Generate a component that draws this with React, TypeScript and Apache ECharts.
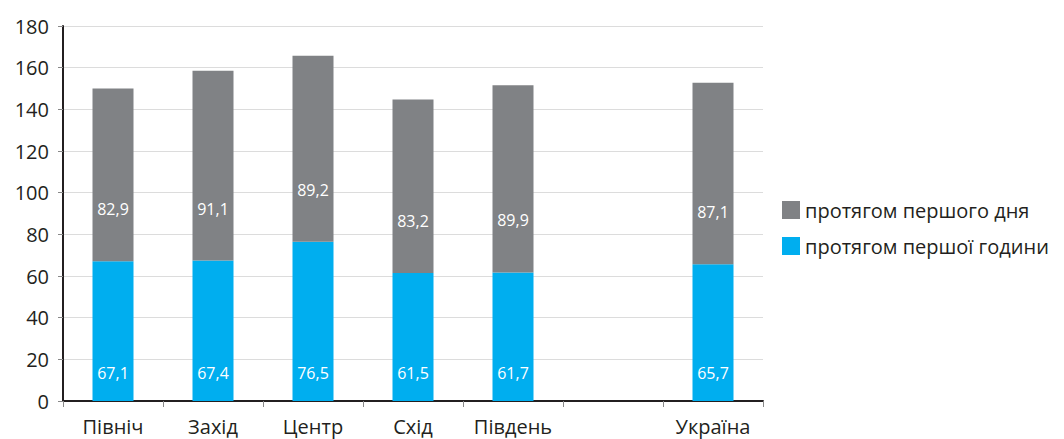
import React, { useEffect, useRef } from "react";
import * as echarts from "echarts";

const categories = ["Північ", "Захід", "Центр", "Схід", "Південь", "", "Україна"];
const firstHour = [67.1, 67.4, 76.5, 61.5, 61.7, null, 65.7];
const firstDay = [82.9, 91.1, 89.2, 83.2, 89.9, null, 87.1];
const seriesNames = ["протягом першого дня", "протягом першої години"];
const yTicks = { min: 0, max: 180, interval: 20 };

const FONT = "'Open Sans', 'Noto Sans', sans-serif";
const fmt = (p: any) => (p.value == null ? "" : Number(p.value).toFixed(1).replace(".", ","));

export default function App() {
  const ref = useRef<HTMLDivElement>(null);
  useEffect(() => {
    if (!ref.current) return;
    const chart = echarts.init(ref.current, undefined, { renderer: "svg" });
    chart.setOption({
      animation: false,
      textStyle: { fontFamily: FONT },
      grid: { left: 55, right: 293, top: 18, bottom: 38, containLabel: false },
      legend: {
        orient: "vertical",
        left: 769,
        top: 187,
        itemWidth: 18,
        itemHeight: 18,
        itemGap: 16,
        icon: "rect",
        data: [seriesNames[0], seriesNames[1]],
        textStyle: { fontFamily: FONT, fontSize: 20, lineHeight: 18, color: "#231f20" },
      },
      xAxis: {
        type: "category",
        data: categories,
        axisLine: { lineStyle: { color: "#231f20", width: 2 } },
        axisTick: { show: true, length: 6, lineStyle: { color: "#888", width: 1 } },
        axisLabel: {
          fontFamily: FONT,
          fontSize: 20,
          color: "#231f20",
          margin: 15,
          interval: 0,
          hideOverlap: false,
        },
      },
      yAxis: {
        type: "value",
        min: yTicks.min,
        max: yTicks.max,
        interval: yTicks.interval,
        axisLine: { show: true, lineStyle: { color: "#231f20", width: 2 } },
        axisTick: { show: true, length: 5, lineStyle: { color: "#888" } },
        splitLine: { lineStyle: { color: "#dcdcdc", width: 1 } },
        axisLabel: { fontFamily: FONT, fontSize: 20, color: "#231f20", margin: 14 },
      },
      series: [
        {
          name: seriesNames[1],
          type: "bar",
          stack: "t",
          data: firstHour,
          barWidth: 41,
          itemStyle: { color: "#00aeef" },
          label: {
            show: true,
            position: "insideBottom",
            distance: 20,
            color: "#fff",
            fontSize: 16,
            fontFamily: FONT,
            formatter: fmt,
          },
        },
        {
          name: seriesNames[0],
          type: "bar",
          stack: "t",
          data: firstDay,
          barWidth: 41,
          itemStyle: { color: "#808285" },
          label: {
            show: true,
            position: "insideBottom",
            distance: 44,
            color: "#fff",
            fontSize: 16,
            fontFamily: FONT,
            formatter: fmt,
          },
        },
      ],
    });
    return () => chart.dispose();
  }, []);
  return <div ref={ref} style={{ width: 1048, height: 431 }} />;
}
